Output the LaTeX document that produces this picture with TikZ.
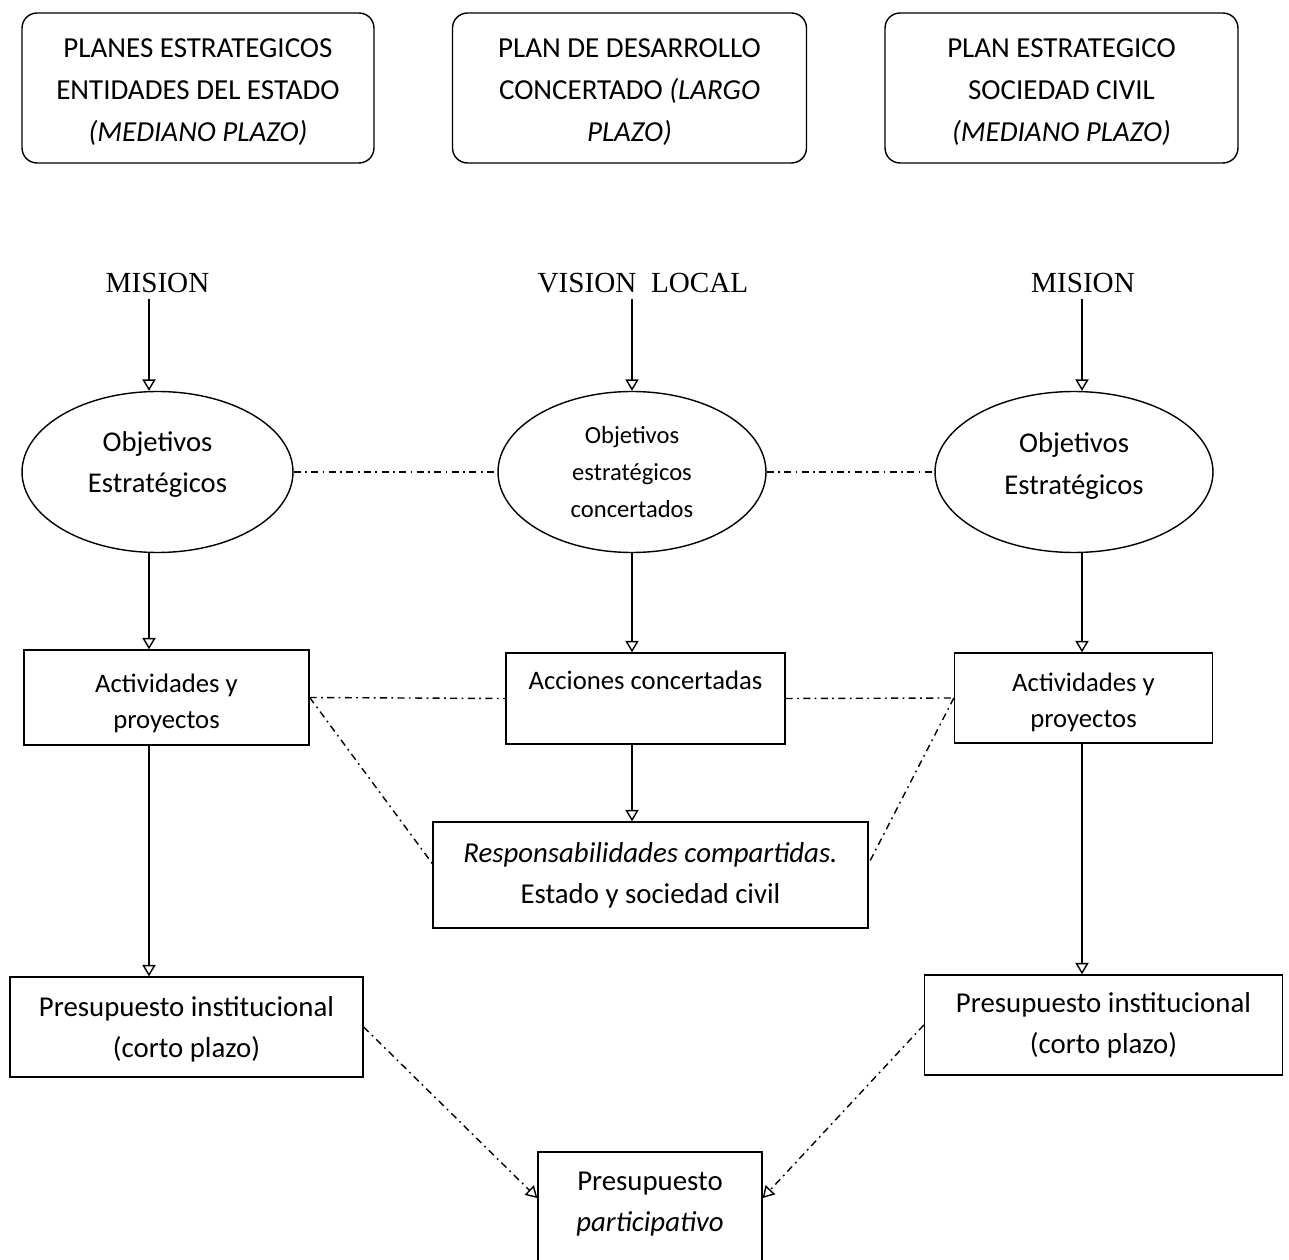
\documentclass[tikz,border=0pt]{standalone}
\usepackage{fontspec}
\setmainfont{Carlito}
\newfontfamily\timesfont{Liberation Serif}
\usetikzlibrary{shapes.geometric, positioning, arrows.meta}

\begin{document}
\begin{tikzpicture}[x=0.02cm, y=-0.02cm,
plan/.style={draw, line width=0.8pt, rounded corners=0.3cm, minimum height=3cm, align=center, inner sep=0pt, font=\fontsize{16.5}{23.8}\selectfont},
meta/.style={draw, line width=0.8pt, ellipse, minimum height=3.22cm, align=center, inner sep=0pt, font=\fontsize{16.3}{23.8}\selectfont},
caja/.style={draw, line width=0.8pt, rectangle, align=center, inner sep=0pt, font=\fontsize{16.4}{23.4}\selectfont},
chica/.style={font=\fontsize{15.2}{20.7}\selectfont},
lbl/.style={font=\timesfont\fontsize{16.6}{20}\selectfont},
arrow/.style={-{Triangle[open, length=6.5pt, width=7.5pt]}, line width=0.8pt},
enlace/.style={line width=0.8pt, dash pattern=on 4pt off 2.5pt on 1pt off 2.5pt}]
    \useasboundingbox (0,0) rectangle (1289,1260);
    \clip (0,0) rectangle (1289,1260);

    \node[plan, minimum width=7.04cm] (plan1) at (198,88) {\rule{0pt}{0.53cm}PLANES ESTRATEGICOS\\ENTIDADES DEL ESTADO\\\textit{(MEDIANO PLAZO)}};
    \node[plan, minimum width=7.08cm] (plan2) at (629.5,88) {\rule{0pt}{0.53cm}PLAN DE DESARROLLO\\CONCERTADO \textit{(LARGO}\\\textit{PLAZO)}};
    \node[plan, minimum width=7.06cm] (plan3) at (1061.5,88) {\rule{0pt}{0.53cm}PLAN ESTRATEGICO\\SOCIEDAD CIVIL\\\textit{(MEDIANO PLAZO)}};

    \node[meta, minimum width=5.42cm] (obj1) at (157.5,472) {Objetivos\\Estratégicos\rule[-0.4cm]{0pt}{0pt}};
    \node[meta, minimum width=5.36cm, font=\fontsize{14}{21.3}\selectfont] (obj2) at (632,472) {Objetivos\\estratégicos\\concertados};
    \node[meta, minimum width=5.56cm] (obj3) at (1074,472) {Objetivos\\Estratégicos\rule[-0.35cm]{0pt}{0pt}};

    \node[lbl, above=1.84cm of obj1] (mision1) {MISION};
    \node[lbl, above=1.84cm of obj2, xshift=0.22cm] (vision) {VISION~~LOCAL};
    \node[lbl, above=1.84cm of obj3, xshift=0.18cm] (mision3) {MISION};

    \node[caja, chica, minimum width=5.7cm, minimum height=1.9cm] (act1) at (166.5,697.5) {\rule{0pt}{0.6cm}Actividades y\\proyectos};
    \node[caja, chica, minimum width=5.58cm, minimum height=1.82cm] (acc) at (645.5,698.5) {Acciones concertadas\\\mbox{}};
    \node[caja, chica, minimum width=5.16cm, minimum height=1.8cm] (act3) at (1083.5,698) {\rule{0pt}{0.55cm}Actividades y\\proyectos};

    \node[caja, minimum width=8.7cm, minimum height=2.12cm] (resp) at (650.5,875) {\textit{Responsabilidades compartidas.}\\Estado y sociedad civil};
    \node[caja, minimum width=7.06cm, minimum height=2cm] (pres1) at (186.5,1027) {\rule{0pt}{0.5cm}Presupuesto institucional\\(corto plazo)};
    \node[caja, minimum width=7.16cm, minimum height=2cm] (pres3) at (1103.5,1025) {Presupuesto institucional\\(corto plazo)};
    \node[caja, minimum width=4.48cm, minimum height=2.8cm] (part) at (650,1222) {Presupuesto\\\textit{participativo}\\\mbox{}};

    \coordinate (c1) at (149,0);
    \coordinate (c2) at (632,0);
    \coordinate (c3) at (1082,0);

    \draw[arrow] (mision1.south -| c1) -- (obj1.north -| c1);
    \draw[arrow] (obj1.south -| c1) -- (act1.north -| c1);
    \draw[arrow] (act1.south -| c1) -- (pres1.north -| c1);
    \draw[arrow] (vision.south -| c2) -- (obj2.north -| c2);
    \draw[arrow] (obj2.south -| c2) -- (acc.north -| c2);
    \draw[arrow] (acc.south -| c2) -- (resp.north -| c2);
    \draw[arrow] (mision3.south -| c3) -- (obj3.north -| c3);
    \draw[arrow] (obj3.south -| c3) -- (act3.north -| c3);
    \draw[arrow] (act3.south -| c3) -- (pres3.north -| c3);

    \draw[enlace] (obj1.east) -- (obj2.west);
    \draw[enlace] (obj2.east) -- (obj3.west);
    \draw[enlace] (act1.east) -- (acc.west);
    \draw[enlace] (acc.east) -- (act3.west);
    \draw[enlace] (act1.east) -- (resp.177);
    \draw[enlace] (act3.west) -- (resp.3);
    \draw[enlace, arrow] (pres1.east) -- (part.168);
    \draw[enlace, arrow] (pres3.west) -- (part.12);
\end{tikzpicture}
\end{document}
